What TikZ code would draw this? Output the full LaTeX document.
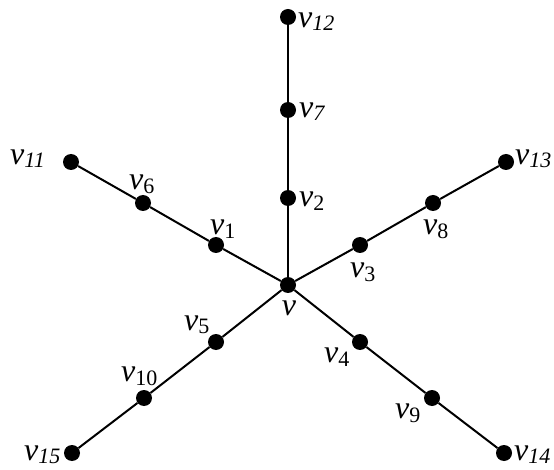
\documentclass[tikz,border=0pt]{standalone}
\usepackage{fontspec}
\setmainfont{Liberation Serif}
\newcommand{\vsub}[1]{\textit{v}\raisebox{-4pt}{\fontsize{22}{22}\selectfont #1}}
\newcommand{\vsubi}[1]{\textit{v}\raisebox{-3pt}{\fontsize{22}{22}\selectfont\itshape #1}}
\begin{document}
\begin{tikzpicture}[x=1pt,y=-1pt,
  dot/.style={circle,fill=black,inner sep=0pt,minimum size=16pt},
  lbl/.style={inner sep=0pt,font=\fontsize{32}{32}\selectfont},
  edge/.style={line width=2pt}]
\useasboundingbox (0,0) rectangle (554,470);
% vertices
\node[dot] (v)   at (288,285) {};
\node[dot] (v2)  at (288,198) {};
\node[dot] (v7)  at (288,110) {};
\node[dot] (v12) at (288,17) {};
\node[dot] (v1)  at (216,245) {};
\node[dot] (v6)  at (143,203) {};
\node[dot] (v11) at (71,162) {};
\node[dot] (v3)  at (360,245) {};
\node[dot] (v8)  at (433,203) {};
\node[dot] (v13) at (506,162) {};
\node[dot] (v5)  at (216,342) {};
\node[dot] (v10) at (144,398) {};
\node[dot] (v15) at (72,453) {};
\node[dot] (v4)  at (360,342) {};
\node[dot] (v9)  at (432,398) {};
\node[dot] (v14) at (504,453) {};
% edges
\draw[edge] (v12) -- (v7) -- (v2) -- (v);
\draw[edge] (v11) -- (v6) -- (v1) -- (v);
\draw[edge] (v13) -- (v8) -- (v3) -- (v);
\draw[edge] (v15) -- (v10) -- (v5) -- (v);
\draw[edge] (v14) -- (v9) -- (v4) -- (v);
% labels
\node[lbl,anchor=base west] (l12) at (298,28) {\vsubi{12}};
\node[lbl,anchor=base west] (l7)  at (299,118) {\vsubi{7}};
\node[lbl,anchor=base west] (l2)  at (299,207) {\vsub{2}};
\node[lbl,anchor=base]      (l0)  at (289,316) {\textit{v}};
\node[lbl,anchor=base west] (l1)  at (210,235) {\vsub{1}};
\node[lbl,anchor=base west] (l6)  at (129,190) {\vsub{6}};
\node[lbl,anchor=base west] (l11) at (10,165) {\vsubi{11}};
\node[lbl,anchor=base west] (l3)  at (350,278) {\vsub{3}};
\node[lbl,anchor=base west] (l8)  at (423,235) {\vsub{8}};
\node[lbl,anchor=base west] (l13) at (515,165) {\vsubi{13}};
\node[lbl,anchor=base west] (l5)  at (184,330) {\vsub{5}};
\node[lbl,anchor=base west] (l10) at (121,381) {\vsub{10}};
\node[lbl,anchor=base west] (l15) at (24,460) {\vsubi{15}};
\node[lbl,anchor=base west] (l4)  at (324,362) {\vsub{4}};
\node[lbl,anchor=base west] (l9)  at (395,418) {\vsub{9}};
\node[lbl,anchor=base west] (l14) at (514,460) {\vsubi{14}};
\end{tikzpicture}
\end{document}
